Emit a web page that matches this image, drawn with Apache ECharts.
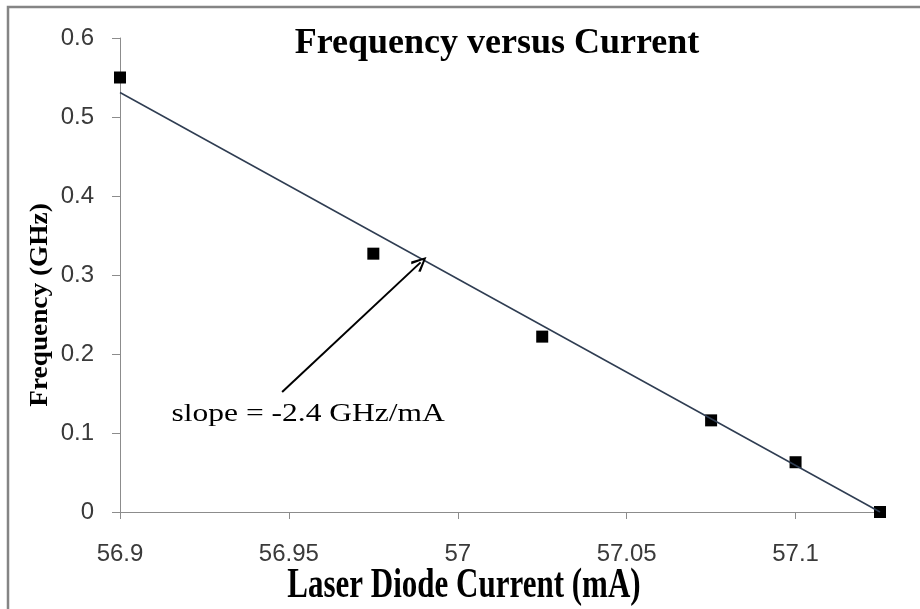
<!DOCTYPE html>
<html>
<head>
<meta charset="utf-8">
<script src="https://cdn.jsdelivr.net/npm/echarts@6/dist/echarts.min.js"></script>
<style>
  html, body { margin: 0; padding: 0; background: #fff; }
  #chart { width: 920px; height: 609px; }
</style>
</head>
<body>
<div id="chart"></div>
<script>
// measured points
const currentMA = [56.9, 56.975, 57.025, 57.075, 57.1, 57.125];
const frequencyGHz = [0.55, 0.327, 0.222, 0.116, 0.063, 0];

// linear trend line as drawn in the picture
const trendX = [56.9, 57.125];
const trendY = [0.531, 0];

// annotation arrow (tail -> head), data coords
const arrowTail = [56.948, 0.152];
const arrowHead = [56.989, 0.316];
const slopeLabel = 'slope = -2.4 GHz/mA';

const xTicks = [56.9, 56.95, 57, 57.05, 57.1];
const yTicks = [0, 0.1, 0.2, 0.3, 0.4, 0.5, 0.6];

const serif = '"Liberation Serif", "DejaVu Serif", serif';
const sans = '"Liberation Sans", Arial, sans-serif';

const chart = echarts.init(document.getElementById('chart'));

const option = {
    animation: false,
    backgroundColor: '#fff',
    grid: { left: 120, right: 40, top: 38, bottom: 97 },
    xAxis: {
        type: 'value',
        min: xTicks[0],
        max: currentMA[currentMA.length - 1],
        interval: 0.05,
        splitLine: { show: false },
        axisLine: { onZero: false, lineStyle: { color: '#8c8c8c', width: 1 } },
        axisTick: { show: true, length: 7, lineStyle: { color: '#8c8c8c' } },
        axisLabel: {
            showMaxLabel: false,
            margin: 30,
            color: '#3a3a3a',
            fontFamily: sans,
            fontSize: 24,
            formatter: v => String(+v.toFixed(3))
        }
    },
    yAxis: {
        type: 'value',
        min: yTicks[0],
        max: yTicks[yTicks.length - 1],
        interval: 0.1,
        splitLine: { show: false },
        axisLine: { show: true, lineStyle: { color: '#8c8c8c', width: 1 } },
        axisTick: { show: true, length: 8, lineStyle: { color: '#8c8c8c' } },
        axisLabel: {
            margin: 26,
            color: '#3a3a3a',
            fontFamily: sans,
            fontSize: 24,
            formatter: v => String(+v.toFixed(2))
        }
    },
    series: [
        {
            name: 'Linear fit',
            type: 'line',
            data: trendX.map((x, i) => [x, trendY[i]]),
            symbol: 'none',
            lineStyle: { color: '#2f3d52', width: 1.5 },
            markLine: {
                silent: true,
                symbol: ['none', 'path://M5,0 L10,9 L8.6,10 L5,2.6 L1.4,10 L0,9 Z'],
                symbolSize: [14, 16],
                label: { show: false },
                lineStyle: { color: '#000', width: 2, type: 'solid' },
                data: [[
                    { coord: arrowTail },
                    { coord: arrowHead }
                ]]
            }
        },
        {
            name: 'Data',
            type: 'scatter',
            data: currentMA.map((x, i) => [x, frequencyGHz[i]]),
            symbol: 'rect',
            symbolSize: 12,
            clip: false,
            itemStyle: { color: '#000', opacity: 1 }
        }
    ],
    graphic: [
        {
            id: 'frame',
            type: 'rect',
            shape: { x: 8, y: 7, width: 1000, height: 1000 },
            style: { fill: 'none', stroke: '#858585', lineWidth: 2.5 },
            silent: true
        },
        {
            id: 'title',
            type: 'text',
            x: 497, y: 44,
            style: {
                text: 'Frequency versus Current',
                font: 'bold 36px ' + serif,
                fill: '#000',
                textAlign: 'center',
                textVerticalAlign: 'middle'
            }
        },
        {
            id: 'xname',
            type: 'text',
            x: 464, y: 586,
            scaleY: 1.35,
            style: {
                text: 'Laser Diode Current (mA)',
                font: 'bold 31px ' + serif,
                fill: '#000',
                textAlign: 'center',
                textVerticalAlign: 'middle'
            }
        },
        {
            id: 'yname',
            type: 'text',
            x: 40, y: 305,
            rotation: Math.PI / 2,
            scaleX: 1.05,
            style: {
                text: 'Frequency (GHz)',
                font: 'bold 26px ' + serif,
                fill: '#000',
                textAlign: 'center',
                textVerticalAlign: 'middle'
            }
        }
    ]
};

chart.setOption(option);

// slope label sits just under the arrow tail
const tailPx = chart.convertToPixel({ gridIndex: 0 }, arrowTail);
chart.setOption({
    graphic: [{
        id: 'slope',
        type: 'text',
        x: tailPx[0] + 26,
        y: tailPx[1] + 23,
        scaleX: 1.26,
        style: {
            text: slopeLabel,
            font: '25px ' + serif,
            fill: '#000',
            textAlign: 'center',
            textVerticalAlign: 'middle'
        }
    }]
});
</script>
</body>
</html>
